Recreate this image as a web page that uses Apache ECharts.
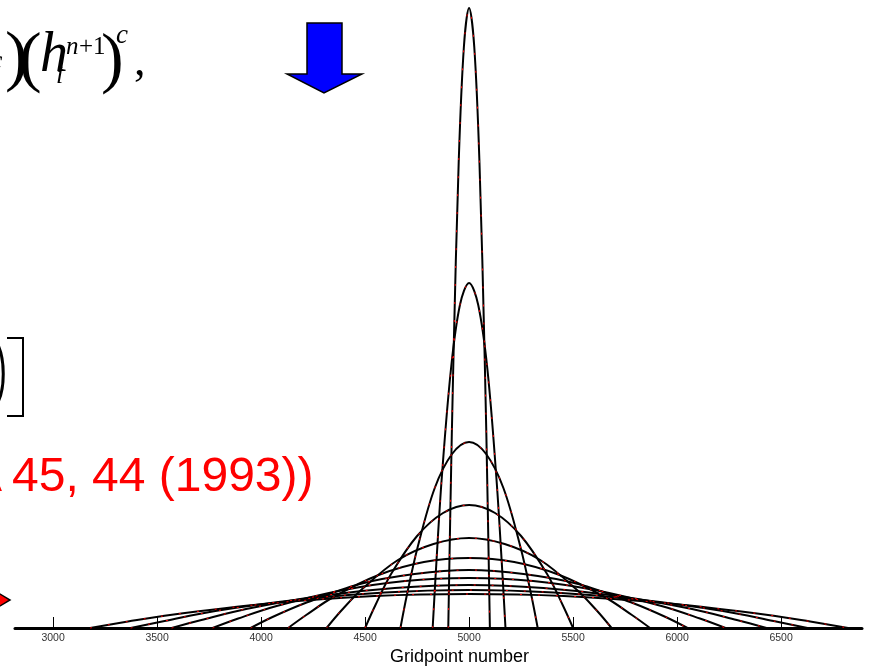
<!DOCTYPE html>
<html><head><meta charset="utf-8">
<script src="https://cdn.jsdelivr.net/npm/echarts@6/dist/echarts.min.js"></script>
<style>html,body{margin:0;padding:0;background:#fff}#c{width:876px;height:670px}</style>
</head><body><div id="c"></div>
<script>
// x ticks
const tickValues = [3000, 3500, 4000, 4500, 5000, 5500, 6000, 6500];
const xName = 'Gridpoint number';
// profiles: [gridpoint, height]
const profile1  = [[4900,0],[4910,118],[4925,271],[4950,465],[4975,581],[5000,620],[5025,581],[5050,465],[5075,271],[5090,118],[5100,0]];
const profile2  = [[4825,0],[4843,66],[4869,151],[4913,259],[4956,323],[5000,345],[5044,323],[5088,259],[5131,151],[5157,66],[5175,0]];
const profile3  = [[4670,0],[4703,35],[4753,81],[4835,140],[4918,174],[5000,186],[5082,174],[5165,140],[5247,81],[5297,35],[5330,0]];
const profile4  = [[4500,0],[4550,23],[4625,54],[4750,92],[4875,115],[5000,123],[5125,115],[5250,92],[5375,54],[5450,23],[5500,0]];
const profile5  = [[4315,0],[4384,17],[4486,39],[4658,68],[4829,84],[5000,90],[5171,84],[5342,68],[5514,39],[5616,17],[5685,0]];
const profile6  = [[4130,0],[4217,13],[4348,31],[4565,53],[4783,66],[5000,70],[5217,66],[5435,53],[5652,31],[5783,13],[5870,0]];
const profile7  = [[3950,0],[4055,11],[4213,25],[4475,44],[4738,54],[5000,58],[5262,54],[5525,44],[5787,25],[5945,11],[6050,0]];
const profile8  = [[3767,0],[3890,9.5],[4075,22],[4384,37.5],[4692,47],[5000,50],[5308,47],[5616,37.5],[5925,22],[6110,9.5],[6233,0]];
const profile9  = [[3570,0],[3713,8],[3928,19],[4285,32],[4643,40],[5000,43],[5357,40],[5715,32],[6072,19],[6287,8],[6430,0]];
const profile10 = [[3373,0],[3536,7],[3780,17],[4186,28.5],[4593,35.5],[5000,38],[5407,35.5],[5814,28.5],[6220,17],[6464,7],[6627,0]];
const profile11 = [[3178,0],[3360,6.5],[3634,15],[4089,25.5],[4545,32],[5000,34],[5455,32],[5911,25.5],[6366,15],[6640,6.5],[6822,0]];
const profiles = [profile1,profile2,profile3,profile4,profile5,profile6,profile7,profile8,profile9,profile10,profile11];

const series = [];
profiles.forEach(p => {
  series.push({type:'line', data:p, smooth:0.35, symbol:'none', clip:false, silent:true,
    lineStyle:{color:'#000', width:2}});
});
profiles.forEach(p => {
  series.push({type:'line', data:p, smooth:0.35, symbol:'none', clip:false, silent:true,
    lineStyle:{color:'#ff0000', width:1, type:[2,16]}});
});

const chart = echarts.init(document.getElementById('c'), null, {renderer:'canvas'});
const serif = '"Liberation Serif","Times New Roman",serif';
chart.setOption({
  animation:false,
  backgroundColor:'#fff',
  grid:{left:15, right:14, top:8, bottom:42},
  xAxis:{type:'value', min:2817, max:6889,
    axisLine:{lineStyle:{color:'#000', width:3}},
    axisTick:{inside:true, length:11, customValues:tickValues, lineStyle:{color:'#000', width:1}},
    axisLabel:{customValues:tickValues, fontSize:10.5, color:'#333', margin:5,
      fontFamily:'"Liberation Sans",Arial,sans-serif', formatter: v => String(v)},
    splitLine:{show:false}},
  yAxis:{type:'value', min:0, max:620, show:false},
  series: series,
  graphic:[
    {type:'text', left:390, top:648, style:{text:xName, font:'18px "Liberation Sans",Arial,sans-serif', fill:'#000'}},
    // formula fragment
    {type:'text', x:-10, y:62, style:{text:'c', font:'italic 28px '+serif, fill:'#000', textVerticalAlign:'middle'}},
    {type:'text', x:5, y:60, style:{text:')', font:'68px '+serif, fill:'#000', textVerticalAlign:'middle'}},
    {type:'text', x:19, y:61, style:{text:'(', font:'68px '+serif, fill:'#000', textVerticalAlign:'middle'}},
    {type:'text', x:40, y:84, style:{text:'h', font:'italic 56px '+serif, fill:'#000', textVerticalAlign:'bottom'}},
    {type:'text', x:66, y:60, style:{text:'n', font:'italic 25px '+serif, fill:'#000', textVerticalAlign:'bottom'}},
    {type:'text', x:79, y:60, style:{text:'+1', font:'25px '+serif, fill:'#000', textVerticalAlign:'bottom'}},
    {type:'text', x:56, y:89, style:{text:'i', font:'italic 26px '+serif, fill:'#000', textVerticalAlign:'bottom'}},
    {type:'text', x:101, y:62, style:{text:')', font:'68px '+serif, fill:'#000', textVerticalAlign:'middle'}},
    {type:'text', x:116, y:49, style:{text:'c', font:'italic 27px '+serif, fill:'#000', textVerticalAlign:'bottom'}},
    {type:'text', x:134, y:86, style:{text:',', font:'46px '+serif, fill:'#000', textVerticalAlign:'bottom'}},
    // big bracket
    {type:'bezierCurve', shape:{x1:-2, y1:345, x2:-2, y2:402, cpx1:5, cpy1:360, cpx2:5, cpy2:388}, style:{stroke:'#000', lineWidth:3, fill:null}},
    {type:'polyline', shape:{points:[[7,338],[23,338],[23,416],[7,416]]}, style:{stroke:'#000', lineWidth:2, fill:null}},
    // red reference text
    {type:'text', x:2, y:478, style:{text:'A', font:'48px "Liberation Sans",Arial,sans-serif', fill:'#ff0000', textAlign:'right', textVerticalAlign:'middle'}},
    {type:'text', x:12, y:478, style:{text:'45, 44 (1993))', font:'48px "Liberation Sans",Arial,sans-serif', fill:'#ff0000', textVerticalAlign:'middle'}},
    // blue arrow
    {type:'polygon', shape:{points:[[307,23],[342,23],[342,74],[362,74],[324,93],[287,74],[307,74]]}, style:{fill:'#0000ff', stroke:'#000', lineWidth:1.5}},
    // red arrow tip
    {type:'polygon', shape:{points:[[-15,585],[10,600],[-15,615]]}, style:{fill:'#ff0000', stroke:'#000', lineWidth:1.5}}
  ]
});
</script></body></html>
